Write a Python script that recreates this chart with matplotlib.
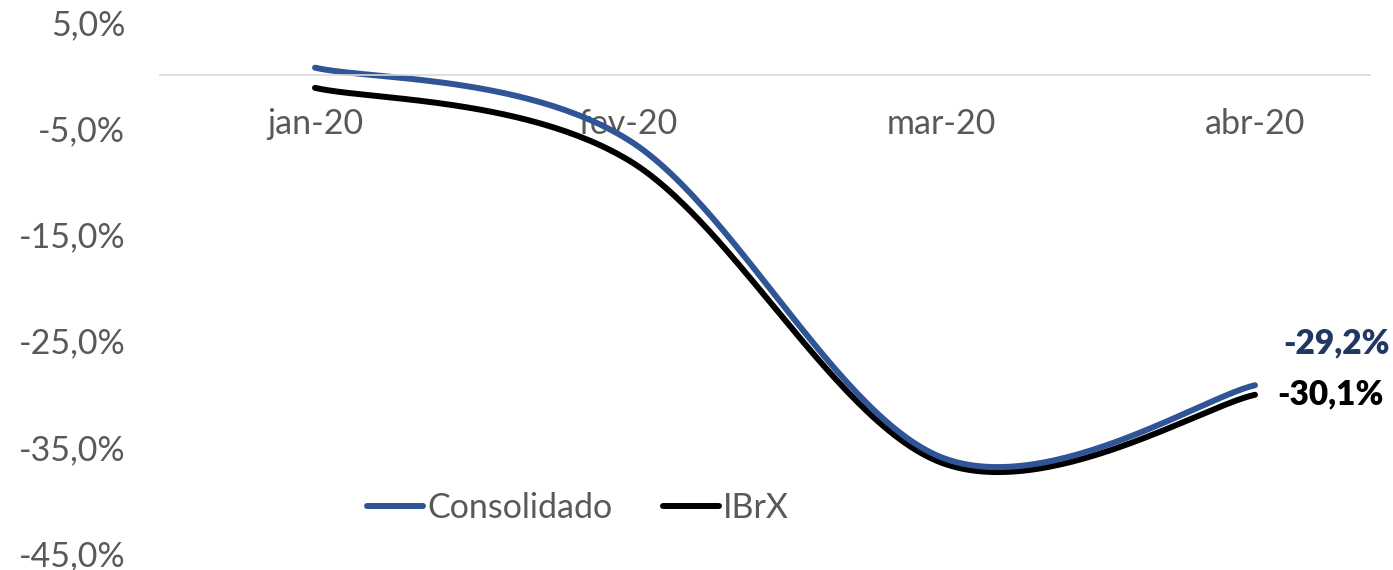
import numpy as np
import matplotlib
matplotlib.use('Agg')
from matplotlib import pyplot as plt

months = ['jan-20', 'fev-20', 'mar-20', 'abr-20']
consolidado = [0.7, -6.1, -36.0, -29.2]
ibrx = [-1.2, -8.0, -36.5, -30.1]
yticks = [5, -5, -15, -25, -35, -45]

plt.rcParams['font.family'] = ['Lato', 'DejaVu Sans']

def smooth(xs, ys, n=60):
    # excel-like smoothed line: catmull-rom as cubic bezier
    pts = np.column_stack([xs, ys]).astype(float)
    ext = np.vstack([pts[0], pts, pts[-1]])
    out = []
    t = np.linspace(0, 1, n)[:, None]
    for i in range(len(pts) - 1):
        p0, p1, p2, p3 = ext[i], ext[i + 1], ext[i + 2], ext[i + 3]
        c1 = p1 + (p2 - p0) / 6
        c2 = p2 - (p3 - p1) / 6
        seg = (1 - t)**3 * p1 + 3 * (1 - t)**2 * t * c1 + 3 * (1 - t) * t**2 * c2 + t**3 * p2
        out.append(seg if i == 0 else seg[1:])
    out = np.vstack(out)
    return out[:, 0], out[:, 1]

def pct(v):
    return ('%.1f%%' % v).replace('.', ',')

W, H = 1393, 570
fig = plt.figure(figsize=(W / 100, H / 100), dpi=100)
ax = fig.add_axes([160 / W, 1 - 553 / H, 1210 / W, 531 / H])

x = np.arange(len(months))
bx, by = smooth(x, ibrx)
cx, cy = smooth(x, consolidado)
ax.plot(bx, by, color='black', lw=4.3, solid_capstyle='round', label='IBrX')
ax.plot(cx, cy, color='#2F5597', lw=4.3, solid_capstyle='round', label='Consolidado')

ax.set_xlim(-155 / 313.3, 3 + 115 / 313.3)
ax.set_ylim(-45, 5)

for s in ['top', 'right', 'left']:
    ax.spines[s].set_visible(False)
ax.spines['bottom'].set_position(('data', 0))
ax.spines['bottom'].set_color('#D9D9D9')
ax.spines['bottom'].set_linewidth(1.2)

ax.set_xticks(x)
ax.set_xticklabels(months)
ax.set_yticks(yticks)
ax.set_yticklabels([pct(v) for v in yticks])
ax.tick_params(axis='x', length=0, pad=24, labelsize=24.5, labelcolor='#595959')
ax.tick_params(axis='y', length=0, pad=25, labelsize=24.5, labelcolor='#595959')

ax.annotate(pct(consolidado[-1]), (x[-1], consolidado[-1]),
            xytext=(20, 30), textcoords='offset points', fontsize=24, fontweight='heavy',
            color='#203864', ha='left', va='center')
ax.annotate(pct(ibrx[-1]), (x[-1], ibrx[-1]),
            xytext=(16, 0), textcoords='offset points', fontsize=24, fontweight='heavy',
            color='black', ha='left', va='center')

h, l = ax.get_legend_handles_labels()
ax.legend(h[::-1], l[::-1], loc='center', bbox_to_anchor=((578 - 160) / 1210, (553 - 508) / 531),
          ncol=2, frameon=False, fontsize=24.5, labelcolor='#595959', handlelength=1.65,
          handletextpad=0.12, columnspacing=1.5)

fig.savefig('out.png', dpi=100)
